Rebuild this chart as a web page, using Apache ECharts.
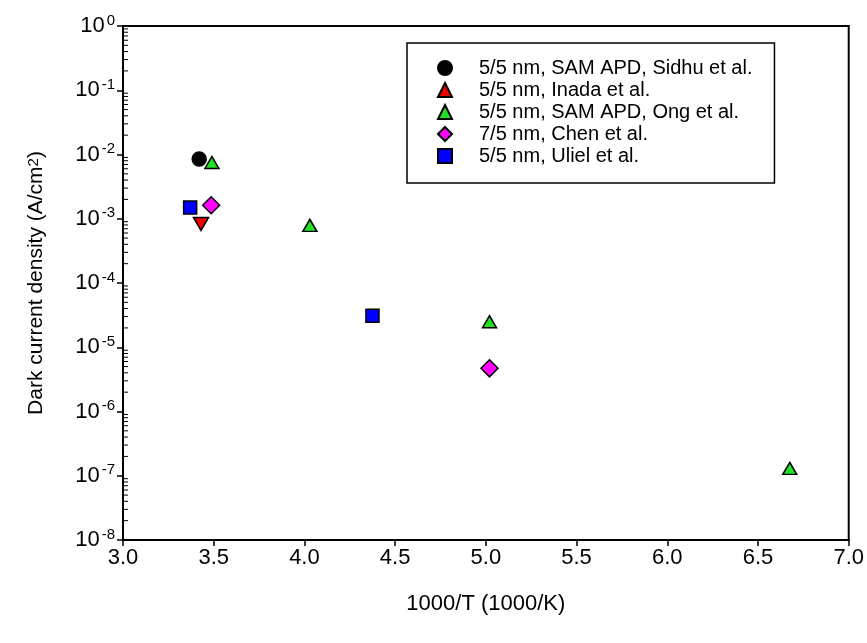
<!DOCTYPE html>
<html>
<head>
<meta charset="utf-8">
<script src="https://cdn.jsdelivr.net/npm/echarts@6/dist/echarts.min.js"></script>
<style>
  html, body { margin: 0; padding: 0; background: #fff; }
  #chart { width: 867px; height: 643px; }
</style>
</head>
<body>
<div id="chart"></div>
<script>
// 数据: [1000/T, 暗电流密度 A/cm2]
const sidhuData = [[3.42, 8.5e-3]];
const inadaData = [[3.43, 8.3e-4]];
const ongData = [[3.49, 7.5e-3], [4.03, 7.9e-4], [5.02, 2.5e-5], [6.675, 1.3e-7]];
const chenData = [[3.486, 1.62e-3], [5.02, 4.7e-6]];
const ulielData = [[3.37, 1.49e-3], [4.375, 3.1e-5]];

const seriesNames = [
    '5/5 nm, SAM APD, Sidhu et al.',
    '5/5 nm, Inada et al.',
    '5/5 nm, SAM APD, Ong et al.',
    '7/5 nm, Chen et al.',
    '5/5 nm, Uliel et al.'
];

const xTicks = [3.0, 3.5, 4.0, 4.5, 5.0, 5.5, 6.0, 6.5, 7.0];
const yDecades = [-8, -7, -6, -5, -4, -3, -2, -1, 0];

// 对数轴的次刻度 2..9
let minorTicks = [];
for (let d = -8; d < 0; d++) {
    for (let k = 2; k <= 9; k++) {
        minorTicks.push([xTicks[0], k * Math.pow(10, d)]);
    }
}

const font = 'Liberation Sans, Arial, sans-serif';
const edge = {borderColor: '#000', borderWidth: 1.5, opacity: 1};

let chart = echarts.init(document.getElementById('chart'), null, {renderer: 'canvas'});

let option = {
    backgroundColor: '#fff',
    animation: false,
    textStyle: {fontFamily: font, color: '#000'},
    grid: {
        left: 123, right: 18, top: 26, bottom: 103,
        show: true,
        borderColor: '#000',
        borderWidth: 2
    },
    legend: {
        data: seriesNames,
        orient: 'vertical',
        left: 407,
        top: 43,
        padding: [14, 22, 16, 30],
        itemWidth: 14,
        itemHeight: 14,
        itemGap: 0,
        borderColor: '#000',
        borderWidth: 1.5,
        textStyle: {
            fontFamily: font,
            fontSize: 20,
            lineHeight: 22,
            color: '#000',
            padding: [0, 0, 0, 22]
        }
    },
    xAxis: {
        type: 'value',
        min: 3,
        max: 7,
        interval: 0.5,
        name: '1000/T (1000/K)',
        nameLocation: 'middle',
        nameGap: 53,
        nameTextStyle: {fontFamily: font, fontSize: 22, color: '#000'},
        axisLine: {lineStyle: {color: '#000', width: 2}},
        axisTick: {inside: false, length: 6, lineStyle: {color: '#000', width: 1.5}},
        axisLabel: {
            fontFamily: font, fontSize: 22, color: '#000', margin: 7,
            formatter: function(v) { return v.toFixed(1); }
        },
        splitLine: {show: false}
    },
    yAxis: {
        type: 'log',
        logBase: 10,
        min: Math.pow(10, yDecades[0]),
        max: Math.pow(10, yDecades[yDecades.length - 1]),
        interval: 1,
        name: 'Dark current density (A/cm{s|2})',
        nameLocation: 'middle',
        nameGap: 76,
        nameTextStyle: {
            fontFamily: font, fontSize: 21, color: '#000',
            rich: {
                s: {fontFamily: font, fontSize: 15, color: '#000', verticalAlign: 'top', lineHeight: 10}
            }
        },
        axisLine: {lineStyle: {color: '#000', width: 2}},
        axisTick: {inside: false, length: 6, lineStyle: {color: '#000', width: 1.5}},
        axisLabel: {
            margin: 8,
            formatter: function(v) {
                let e = Math.round(Math.log10(v));
                return '{b|10}{s|' + e + '}';
            },
            rich: {
                b: {fontFamily: font, fontSize: 22, color: '#000', lineHeight: 26},
                s: {fontFamily: font, fontSize: 15, color: '#000', verticalAlign: 'top', lineHeight: 10, padding: [0, 0, 0, 2]}
            }
        },
        splitLine: {show: false}
    },
    series: [
        {
            // 次刻度线
            name: 'minor',
            type: 'custom',
            silent: true,
            clip: false,
            data: minorTicks,
            renderItem: function(params, api) {
                let p = api.coord([api.value(0), api.value(1)]);
                return {
                    type: 'line',
                    shape: {x1: p[0], y1: p[1], x2: p[0] + 5, y2: p[1]},
                    style: {stroke: '#000', lineWidth: 1}
                };
            }
        },
        {
            name: seriesNames[0], type: 'scatter', data: sidhuData,
            symbol: 'circle', symbolSize: 14,
            itemStyle: Object.assign({color: '#000'}, edge)
        },
        {
            name: seriesNames[1], type: 'scatter', data: inadaData,
            symbol: 'triangle', symbolSize: [15, 13], symbolRotate: 180,
            itemStyle: Object.assign({color: '#ee0000'}, edge)
        },
        {
            name: seriesNames[2], type: 'scatter', data: ongData,
            symbol: 'triangle', symbolSize: [14, 12],
            itemStyle: Object.assign({color: '#22e022'}, edge)
        },
        {
            name: seriesNames[3], type: 'scatter', data: chenData,
            symbol: 'diamond', symbolSize: 17,
            itemStyle: Object.assign({color: '#ff00ff'}, edge)
        },
        {
            name: seriesNames[4], type: 'scatter', data: ulielData,
            symbol: 'rect', symbolSize: 13,
            itemStyle: Object.assign({color: '#0000ff'}, edge)
        }
    ]
};

chart.setOption(option);
</script>
</body>
</html>
